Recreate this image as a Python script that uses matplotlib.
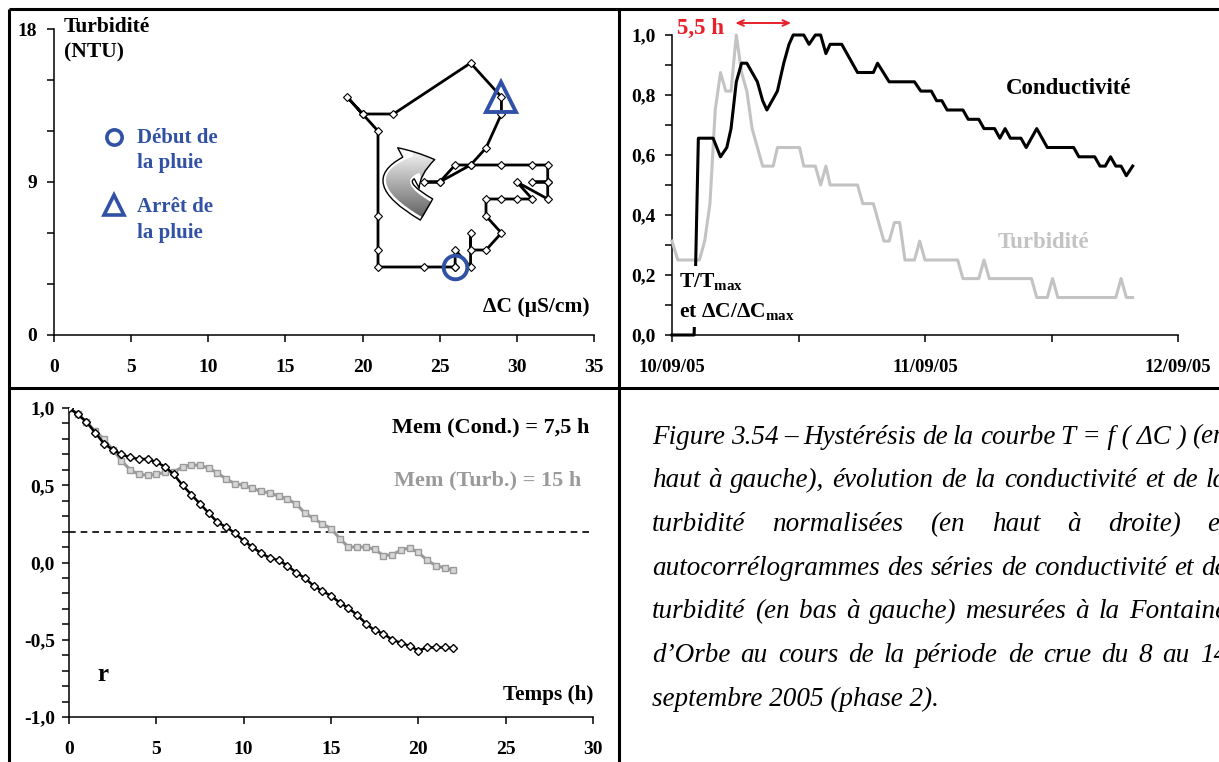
import matplotlib
matplotlib.use("Agg")
import matplotlib.pyplot as plt
import numpy as np
from matplotlib.patches import FancyArrowPatch
from matplotlib.lines import Line2D

plt.rcParams['font.family'] = 'Liberation Serif'
plt.rcParams['font.weight'] = 'bold'
plt.rcParams['mathtext.fontset'] = 'custom'
plt.rcParams['mathtext.rm'] = 'Liberation Serif:bold'
plt.rcParams['mathtext.bf'] = 'Liberation Serif:bold'
plt.rcParams['mathtext.it'] = 'Liberation Serif:bold:italic'

# ---------------- data ----------------
# Hysteresis loop T = f(dC)
hyst_dc = [26, 24, 21, 21, 21, 21, 20, 19, 20, 22, 27, 29, 29, 28, 27, 25, 24, 25, 26, 27,
           29, 31, 32, 32, 31, 32, 32, 30, 31, 30, 29, 28, 28, 29, 28, 27, 27, 27, 26, 26]
hyst_t = [4, 4, 4, 5, 7, 12, 13, 14, 13, 13, 16, 14, 13, 11, 10, 9, 9, 9, 10, 10,
          10, 10, 10, 9, 9, 9, 8, 9, 8, 8, 8, 8, 7, 6, 5, 5, 6, 4, 5, 4]
start_idx = 0      # début de la pluie
stop_idx = 11      # arrêt de la pluie

# Normalised time series (hours after 10/09/05 00:00)
cond_h = [0, 2.1, 2.5, 3.9, 4.6, 5.2, 5.6, 6.1, 6.6, 7.1, 8.1, 8.6, 9.0, 10.0, 10.6, 11.1,
          11.5, 12.5, 13.0, 13.6, 14.1, 14.6, 15.0, 16.1, 17.6, 19.1, 19.5, 20.6, 23.0, 23.6,
          24.6, 25.1, 25.6, 26.1, 27.6, 28.1, 29.1, 29.6, 30.6, 31.1, 31.6, 32.1, 33.1, 33.6,
          34.6, 35.6, 38.1, 38.6, 40.1, 40.6, 41.1, 41.6, 42.1, 42.6, 43.1, 43.7]
cond_v = [0, 0, 0.656, 0.656, 0.594, 0.625, 0.688, 0.844, 0.906, 0.906, 0.844, 0.781, 0.75,
          0.813, 0.906, 0.969, 1.0, 1.0, 0.969, 1.0, 1.0, 0.938, 0.969, 0.969, 0.875, 0.875,
          0.906, 0.844, 0.844, 0.813, 0.813, 0.781, 0.781, 0.75, 0.75, 0.719, 0.719, 0.688,
          0.688, 0.656, 0.688, 0.656, 0.656, 0.625, 0.688, 0.625, 0.625, 0.594, 0.594, 0.563,
          0.563, 0.594, 0.563, 0.563, 0.531, 0.563]
turb_h = [0, 0.55, 2.6, 3.1, 3.6, 4.1, 4.6, 5.1, 5.6, 6.1, 6.6, 7.1, 7.6, 8.6, 9.6, 10.0,
          12.1, 12.5, 13.6, 14.1, 14.6, 15.0, 17.6, 18.1, 19.1, 20.1, 20.6, 21.1, 21.6, 22.1,
          23.0, 23.5, 24.0, 27.1, 27.6, 29.1, 29.6, 30.1, 34.1, 34.6, 35.6, 36.1, 36.6, 42.1,
          42.6, 43.1, 43.7]
turb_v = [0.313, 0.25, 0.25, 0.313, 0.438, 0.75, 0.875, 0.813, 0.813, 1.0, 0.875, 0.813,
          0.688, 0.563, 0.563, 0.625, 0.625, 0.563, 0.563, 0.5, 0.563, 0.5, 0.5, 0.438, 0.438,
          0.313, 0.313, 0.375, 0.375, 0.25, 0.25, 0.313, 0.25, 0.25, 0.188, 0.188, 0.25, 0.188,
          0.188, 0.125, 0.125, 0.188, 0.125, 0.125, 0.188, 0.125, 0.125]
date_ticks = [0, 24, 48]
date_labels = ["10/09/05", "11/09/05", "12/09/05"]
lag_start, lag_end = 6.0, 11.3   # 5,5 h lag arrow (hours)

# Autocorrelograms
lag = [0, 0.5, 1, 1.5, 2, 2.5, 3, 3.5, 4, 4.5, 5, 5.5, 6, 6.5, 7, 7.5, 8, 8.5, 9, 9.5, 10,
       10.5, 11, 11.5, 12, 12.5, 13, 13.5, 14, 14.5, 15, 15.5, 16, 16.5, 17, 17.5, 18, 18.5,
       19, 19.5, 20, 20.5, 21, 21.5, 22]
r_cond = [1.0, 0.96, 0.91, 0.84, 0.77, 0.73, 0.70, 0.68, 0.67, 0.67, 0.65, 0.62, 0.57, 0.50,
          0.44, 0.38, 0.32, 0.26, 0.23, 0.19, 0.14, 0.10, 0.06, 0.03, 0.015, -0.02, -0.065,
          -0.10, -0.15, -0.185, -0.215, -0.26, -0.295, -0.34, -0.395, -0.44, -0.46, -0.50,
          -0.52, -0.54, -0.57, -0.55, -0.55, -0.55, -0.555]
r_turb = [1.0, 0.96, 0.91, 0.85, 0.80, 0.73, 0.66, 0.60, 0.57, 0.565, 0.57, 0.585, 0.585, 0.62,
          0.63, 0.63, 0.61, 0.58, 0.54, 0.51, 0.50, 0.48, 0.46, 0.45, 0.43, 0.41, 0.38, 0.32,
          0.285, 0.25, 0.22, 0.155, 0.10, 0.10, 0.10, 0.085, 0.045, 0.05, 0.08, 0.095, 0.065,
          0.015, -0.02, -0.035, -0.05]
r_threshold = 0.2

caption = [
    "Figure 3.54 – Hystérésis de la courbe T~=~f~(~ΔC~) (en",
    "haut à gauche), évolution de la conductivité et de la",
    "turbidité normalisées (en haut à droite) et",
    "autocorrélogrammes des séries de conductivité et de",
    "turbidité (en bas à gauche) mesurées à la Fontaine",
    "d’Orbe au cours de la période de crue du 8 au 14",
    "septembre 2005 (phase 2).",
]

# ---------------- figure ----------------
W, H = 1219, 762
fig = plt.figure(figsize=(W / 100, H / 100), dpi=100)


def rect(x0, y0, x1, y1):
    return [x0 / W, 1 - y1 / H, (x1 - x0) / W, (y1 - y0) / H]


def fline(xs, ys, lw=2.2):
    fig.add_artist(Line2D([x / W for x in xs], [1 - y / H for y in ys], lw=lw,
                          color='black', transform=fig.transFigure, solid_capstyle='butt'))


def style_axes(ax, pad_x=12, pad_y=7, size=14):
    for s in ('top', 'right'):
        ax.spines[s].set_visible(False)
    for s in ('left', 'bottom'):
        ax.spines[s].set_linewidth(1.1)
    ax.tick_params(which='both', direction='out', length=5, width=1.1)
    ax.tick_params(axis='x', which='major', pad=pad_x, labelsize=size)
    ax.tick_params(axis='y', which='major', pad=pad_y, labelsize=size)


BLUE = '#3152a4'
RED = '#e8202a'

# ---- top-left: hysteresis ----
ax1 = fig.add_axes(rect(54, 29, 594, 335))
style_axes(ax1)
ax1.set_xlim(0, 35)
ax1.set_ylim(0, 18)
ax1.set_xticks(range(0, 36, 5))
ax1.set_yticks([0, 9, 18])
ax1.set_yticks([3, 6, 12, 15], minor=True)

# curved gradient arrow
arr = FancyArrowPatch((24.3, 7.3), (24.85, 10.35), connectionstyle='arc3,rad=-1.35',
                      arrowstyle='simple,head_length=0.9,head_width=1.5,tail_width=0.8',
                      mutation_scale=22, facecolor='none', edgecolor='black', lw=1.0, zorder=4)
ax1.add_patch(arr)
grad = np.linspace(0.33, 0.97, 256).reshape(-1, 1)
im = ax1.imshow(grad, cmap='gray', vmin=0, vmax=1, origin='lower', aspect='auto',
                extent=[21.0, 25.6, 6.5, 10.9], interpolation='bilinear', zorder=3)
im.set_clip_path(arr)
ax1.set_xlim(0, 35)
ax1.set_ylim(0, 18)

ax1.plot(hyst_dc, hyst_t, color='black', lw=2.0, marker='D', ms=4.5, mfc='white',
         mec='black', mew=0.8, zorder=5)
ax1.plot(hyst_dc[start_idx], hyst_t[start_idx], 'o', ms=17, mfc='none', mec=BLUE, mew=2.8, zorder=6)
ax1.plot(hyst_dc[stop_idx], hyst_t[stop_idx], '^', ms=21, mfc='none', mec=BLUE, mew=2.8, zorder=6)

ax1.text(0.65, 18.1, "Turbidité", fontsize=15.5, va='center', ha='left')
ax1.text(0.65, 16.6, "(NTU)", fontsize=15.5, va='center', ha='left')
ax1.text(34.7, 1.65, "ΔC (µS/cm)", fontsize=15.5, va='center', ha='right')

ax1.plot(3.86, 11.66, 'o', ms=11, mfc='none', mec=BLUE, mew=2.6, clip_on=False)
ax1.plot(3.86, 7.65, '^', ms=14, mfc='none', mec=BLUE, mew=2.6, clip_on=False)
ax1.text(5.38, 11.6, "Début de", color=BLUE, fontsize=15, va='center', ha='left')
ax1.text(5.38, 10.1, "la pluie", color=BLUE, fontsize=15, va='center', ha='left')
ax1.text(5.38, 7.5, "Arrêt de", color=BLUE, fontsize=15, va='center', ha='left')
ax1.text(5.38, 6.0, "la pluie", color=BLUE, fontsize=15, va='center', ha='left')

# ---- top-right: normalised time series ----
ax2 = fig.add_axes(rect(672, 35, 1178, 335))
style_axes(ax2)
ax2.set_xlim(0, 48)
ax2.set_ylim(0, 1)
ax2.set_xticks(date_ticks)
ax2.set_xticklabels(date_labels)
ax2.set_xticks([12, 36], minor=True)
yt = [0, 0.2, 0.4, 0.6, 0.8, 1.0]
ax2.set_yticks(yt)
ax2.set_yticklabels([f"{v:.1f}".replace('.', ',') for v in yt])
ax2.set_yticks([0.1, 0.3, 0.5, 0.7, 0.9], minor=True)
ax2.tick_params(axis='x', labelsize=13.5)

ax2.plot(turb_h, turb_v, color='#c3c3c3', lw=2.2, zorder=3, clip_on=False)
ax2.plot(cond_h, cond_v, color='black', lw=2.2, zorder=4, clip_on=False)
box = dict(fc='white', ec='none', pad=3.5)
ax2.text(0.66, 0.177, r"$\mathrm{T/T_{max}}$", fontsize=15.5, va='center', ha='left',
         zorder=6, bbox=box)
ax2.text(0.66, 0.077, r"$\mathrm{et\ \Delta C/\Delta C_{max}}$", fontsize=15.5, va='center',
         ha='left', zorder=6, bbox=box)
ax2.text(37.6, 0.82, "Conductivité", fontsize=16.5, va='center', ha='center')
ax2.text(35.2, 0.307, "Turbidité", fontsize=16.5, va='center', ha='center', color='#c3c3c3')
ax2.text(0.5, 1.023, "5,5 h", fontsize=16.5, color=RED, va='center', ha='left', clip_on=False)
ax2.annotate("", xy=(lag_end, 1.04), xytext=(lag_start, 1.04), annotation_clip=False,
             arrowprops=dict(arrowstyle='<->,head_length=0.45,head_width=0.2', color=RED,
                             lw=1.4, shrinkA=0, shrinkB=0))

# ---- bottom-left: autocorrelograms ----
ax3 = fig.add_axes(rect(69, 408, 593, 717))
style_axes(ax3, pad_y=5)
ax3.set_xlim(0, 30)
ax3.set_ylim(-1, 1)
ax3.set_xticks(range(0, 31, 5))
yt3 = [-1.0, -0.5, 0.0, 0.5, 1.0]
ax3.set_yticks(yt3)
ax3.set_yticklabels([f"{v:.1f}".replace('.', ',') for v in yt3])
ax3.set_yticks([v / 10 for v in range(-9, 10) if v % 5 != 0], minor=True)
ax3.axhline(r_threshold, color='black', lw=1.2, ls=(0, (4, 3)))
ax3.plot(lag, r_turb, color='#9a9a9a', lw=2.2, marker='s', ms=4.2, mfc='#d6d6d6',
         mec='#9a9a9a', mew=1.0, zorder=3)
ax3.plot(lag, r_cond, color='black', lw=1.8, marker='D', ms=4.0, mfc='white',
         mec='black', mew=1.0, zorder=4)
ax3.text(29.8, 0.877, "Mem (Cond.) = 7,5 h", fontsize=16, va='center', ha='right')
ax3.text(29.3, 0.534, "Mem (Turb.) = 15 h", fontsize=16, va='center', ha='right', color='#9a9a9a')
ax3.text(1.95, -0.728, "r", fontsize=18, va='center', ha='center')
ax3.text(30, -0.857, "Temps (h)", fontsize=15.3, va='center', ha='right')

# ---- frame lines ----
fline([9, W], [9, 9])
fline([9, 9], [9, H])
fline([619, 619], [9, H])
fline([9, W], [388, 388])

# ---- caption (justified lines) ----
renderer = fig.canvas.get_renderer()
x0, right = 652, 1227
for i, line in enumerate(caption):
    y = 1 - (437 + i * 43.7) / H
    kw = dict(fontsize=19.5, fontstyle='italic', fontweight='normal', va='center', ha='left')
    if i < len(caption) - 1:
        words = [w.replace('~', ' ') for w in line.split(' ')]
        texts = [fig.text(0, y, w, **kw) for w in words]
        widths = [t.get_window_extent(renderer).width for t in texts]
        gap = (right - x0 - sum(widths)) / (len(words) - 1)
        x = x0
        for t, w in zip(texts, widths):
            t.set_x(x / W)
            x += w + gap
    else:
        fig.text(x0 / W, y, line, **kw)

fig.savefig("out.png", dpi=100)
